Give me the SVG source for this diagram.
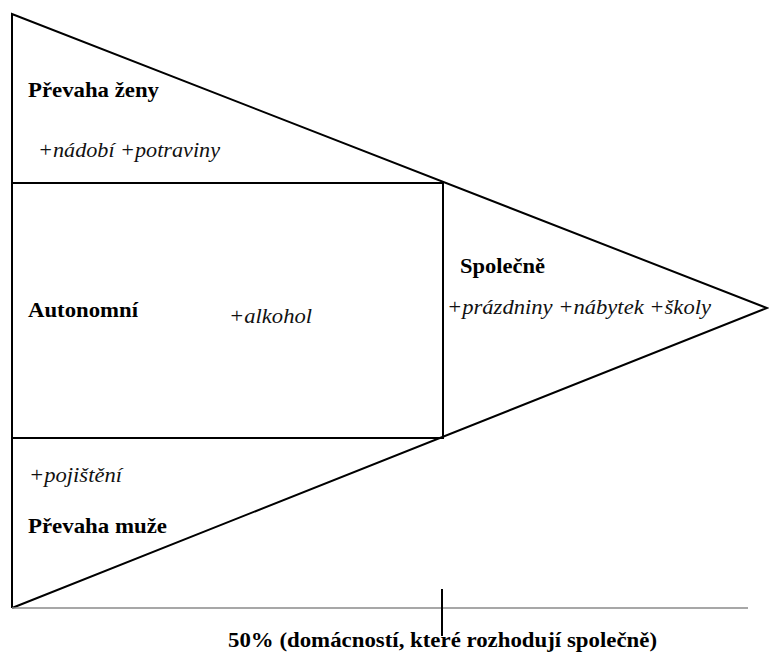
<svg xmlns="http://www.w3.org/2000/svg" width="769" height="659" viewBox="0 0 769 659">
<style>
.ln{fill:none;stroke:#000;stroke-width:2;stroke-linejoin:miter}
.b{font-family:'Liberation Serif','Times New Roman','DejaVu Serif',Tinos,serif;font-weight:bold;font-size:22px;fill:#000}
.i{font-family:'Liberation Serif','Times New Roman','DejaVu Serif',Tinos,serif;font-style:italic;font-size:22px;fill:#111}
</style>
<rect width="769" height="659" fill="#fff"/>
<g id="connectors">
<polyline class="ln" points="12,608 12,14 767,308 12,608"/>
<polyline class="ln" points="12,183 443,183 443,438 12,438"/>
<line x1="12" y1="608" x2="748" y2="608" stroke="#8a8a8a" stroke-width="1.6"/>
<line x1="442" y1="589" x2="442" y2="636" stroke="#000" stroke-width="2"/>
</g>
<g id="prevaha-zeny">
<text class="b" x="28" y="97" textLength="131" lengthAdjust="spacingAndGlyphs">Převaha ženy</text>
<text class="i" x="38" y="157" textLength="182" lengthAdjust="spacingAndGlyphs">+nádobí +potraviny</text>
</g>
<g id="autonomni">
<text class="b" x="28" y="317" textLength="110" lengthAdjust="spacingAndGlyphs">Autonomní</text>
<text class="i" x="229" y="323" textLength="83" lengthAdjust="spacingAndGlyphs">+alkohol</text>
</g>
<g id="spolecne">
<text class="b" x="460" y="273" textLength="85" lengthAdjust="spacingAndGlyphs">Společně</text>
<text class="i" x="447" y="314" textLength="264" lengthAdjust="spacingAndGlyphs">+prázdniny +nábytek +školy</text>
</g>
<g id="prevaha-muze">
<text class="i" x="29" y="482" textLength="93" lengthAdjust="spacingAndGlyphs">+pojištění</text>
<text class="b" x="28" y="533" textLength="139" lengthAdjust="spacingAndGlyphs">Převaha muže</text>
</g>
<g id="axis-label">
<text class="b" x="228" y="647" textLength="429" lengthAdjust="spacingAndGlyphs">50% (domácností, které rozhodují společně)</text>
</g>
</svg>
